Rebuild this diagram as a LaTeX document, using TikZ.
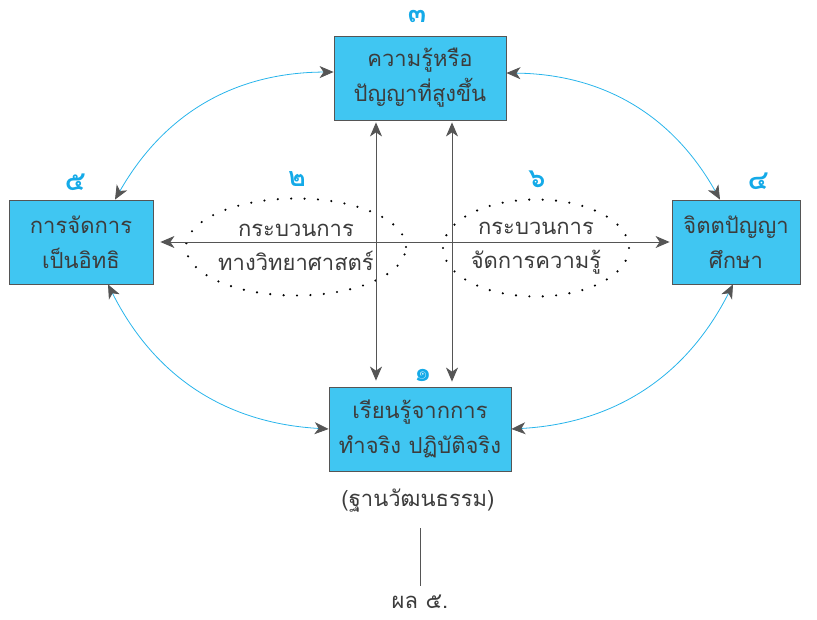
\documentclass[tikz,border=0pt]{standalone}
\usepackage{fontspec}
\setmainfont[Script=Thai]{Loma}
\usetikzlibrary{arrows.meta,shapes.geometric}
\definecolor{boxblue}{RGB}{64,198,242}
\definecolor{numblue}{RGB}{20,170,232}
\definecolor{arcblue}{RGB}{40,180,235}
\definecolor{tipgray}{RGB}{85,85,85}
\definecolor{txtgray}{RGB}{60,60,60}

\begin{document}
\begin{tikzpicture}[x=1pt, y=-1pt,
  >={Stealth[length=14pt, width=12pt, inset=4pt, color=tipgray]},
  box/.style={draw=tipgray, line width=0.8pt, fill=boxblue, align=center, text=txtgray,
    font=\fontsize{22}{35}\selectfont, inner sep=0pt, minimum height=84pt},
  num/.style={text=numblue, font=\bfseries\fontsize{27}{27}\selectfont},
  proc/.style={ellipse, draw=black, line width=2.4pt, dash pattern=on 0pt off 13.4pt,
    line cap=round, minimum width=186pt, minimum height=97pt, align=center, text=txtgray,
    font=\fontsize{22}{34}\selectfont, inner sep=0pt},
  txt/.style={text=txtgray, font=\fontsize{22}{26}\selectfont},
  axis/.style={draw=tipgray, line width=1pt},
  arc/.style={draw=arcblue, line width=0.8pt}]
\useasboundingbox (0,0) rectangle (817,619);

% กล่อง
\node[box, minimum width=172pt] (top) at (420,78) {ความรู้หรือ\\ปัญญาที่สูงขึ้น};
\node[box, minimum width=144pt] (left) at (81,242) {การจัดการ\\เป็นอิทธิ};
\node[box, minimum width=128pt] (right) at (736,242) {จิตตปัญญา\\ศึกษา};
\node[box, minimum width=182pt] (bot) at (420,429) {เรียนรู้จากการ\\ทำจริง ปฏิบัติจริง};

% กระบวนการ
\node[proc] (sci) at (296,247) {กระบวนการ\\ทางวิทยาศาสตร์};
\node[proc] (km) at (536,248) {กระบวนการ\\จัดการความรู้};

% ตัวเลข
\node[num] (n1) at (423,375) {๑};
\node[num] (n2) at (297,179) {๒};
\node[num] (n3) at (417,16) {๓};
\node[num] (n4) at (758,181) {๔};
\node[num] (n5) at (75,182) {๕};
\node[num] (n6) at (537,179) {๖};

% เส้นแกน
\draw[<->, axis, shorten <=7pt, shorten >=2pt] (left) -- (right);
\draw[<->, axis, shorten <=2pt, shorten >=6pt] ([xshift=-44pt]top.south) -- ([xshift=-44pt]bot.north);
\draw[<->, axis, shorten <=2pt, shorten >=5pt] ([xshift=32pt]top.south) -- ([xshift=32pt]bot.north);

% เส้นโค้ง
\draw[<->, arc] ([yshift=6pt]top.west) to[bend right=30] ([xshift=34pt]left.north);
\draw[<->, arc] ([yshift=5pt]top.east) to[bend left=30] ([xshift=-16pt]right.north);
\draw[<->, arc] ([xshift=-3pt]right.south) to[bend left=30] (bot.east);
\draw[<->, arc] ([xshift=27pt]left.south) to[bend right=30] (bot.west);

% ฐาน
\node[txt] (base) at (418,501) {(ฐานวัฒนธรรม)};
\node[txt] (res) at (420,602) {ผล ๕.};
\draw[draw=tipgray, line width=0.8pt, shorten <=12pt, shorten >=6pt] (res.north |- base.south) -- (res.north);
\end{tikzpicture}
\end{document}
